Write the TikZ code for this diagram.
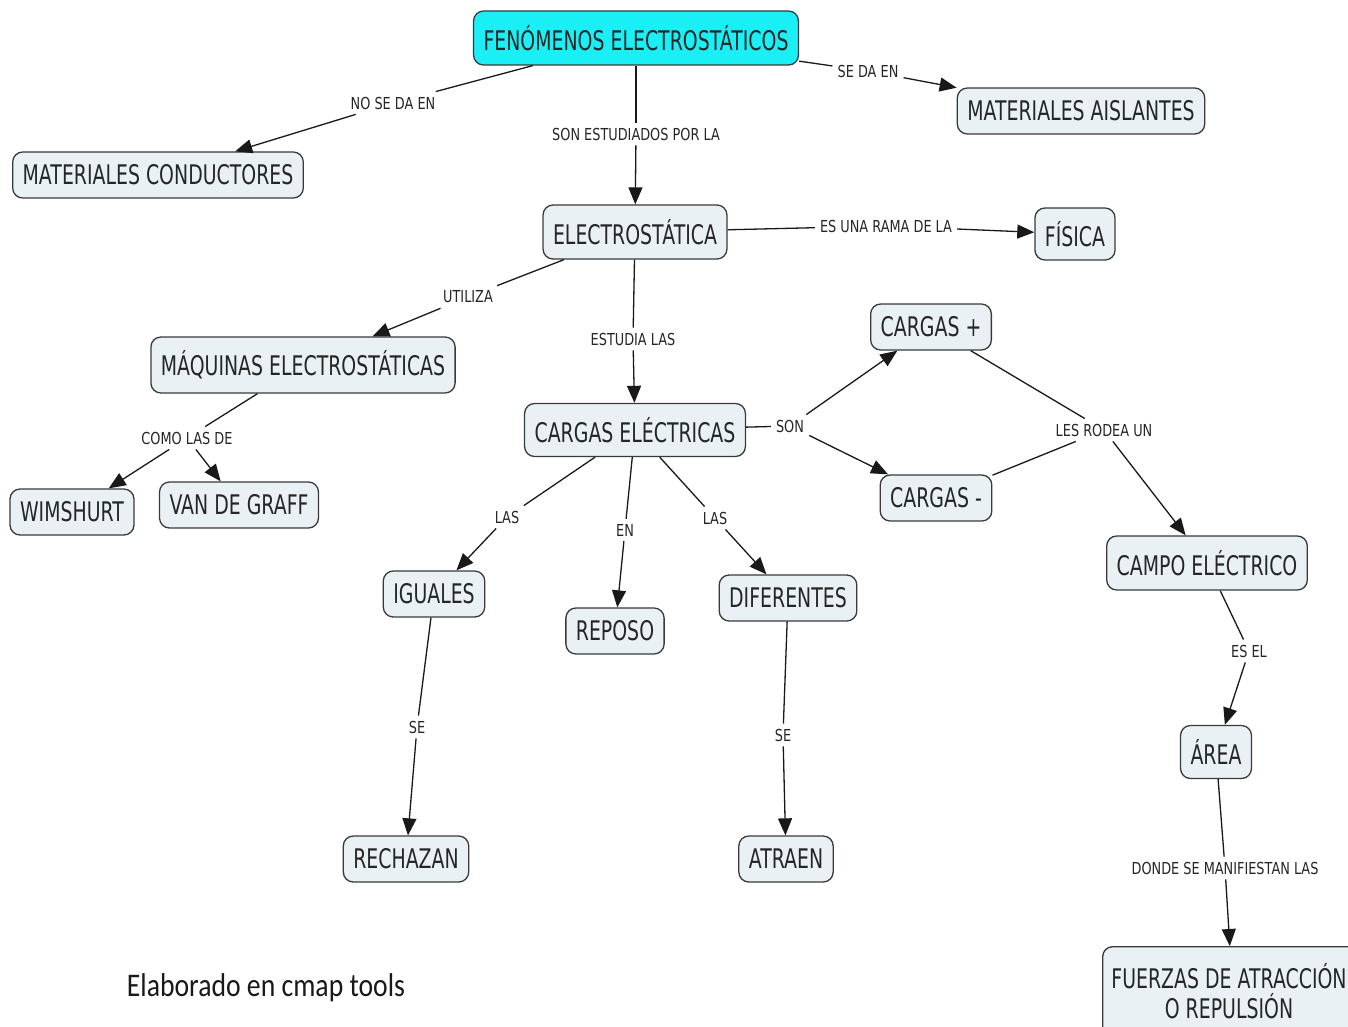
\documentclass[tikz,border=0pt]{standalone}
\usepackage{fontspec}
\usetikzlibrary{arrows.meta}
\newfontfamily\nodefont[FakeStretch=0.70]{DejaVu Sans}
\newfontfamily\labfont[FakeStretch=0.78]{DejaVu Sans}
\newfontfamily\footfont[FakeStretch=0.84]{Carlito}
\definecolor{boxfill}{HTML}{E9F1F5}
\definecolor{boxline}{HTML}{3A3A3A}
\definecolor{titlefill}{HTML}{1AEFF5}
\begin{document}
\begin{tikzpicture}[x=1pt,y=-1pt,
  concept/.style={draw=boxline,line width=1.3pt,rounded corners=10pt,fill=boxfill,
    font=\nodefont\fontsize{27}{30}\selectfont,inner xsep=10pt,inner ysep=0pt,
    minimum height=46pt,align=center,text=black!85},
  lab/.style={font=\labfont\fontsize{16.5}{19}\selectfont,inner sep=5pt,text=black!85},
  ln/.style={line width=1.3pt,black!90},
  arr/.style={ln,-{Triangle[length=17pt,width=14pt]}}]
\useasboundingbox (0,0) rectangle (1348,1027);
\fill[white] (0,0) rectangle (1348,1027);
% concepts
\node[concept,fill=titlefill,minimum height=54pt] (fen) at (636,38) {FENÓMENOS ELECTROSTÁTICOS};
\node[concept] (ais) at (1081,111) {MATERIALES AISLANTES};
\node[concept] (con) at (158,175) {MATERIALES CONDUCTORES};
\node[concept,minimum height=54pt] (est) at (635,232) {ELECTROSTÁTICA};
\node[concept,minimum height=52pt] (fis) at (1075,234) {FÍSICA};
\node[concept,minimum height=56pt] (maq) at (303,365) {MÁQUINAS ELECTROSTÁTICAS};
\node[concept] (cmas) at (931,327) {CARGAS +};
\node[concept,minimum height=53pt] (car) at (635,430) {CARGAS ELÉCTRICAS};
\node[concept] (cmen) at (936,498) {CARGAS -};
\node[concept] (wim) at (72,512) {WIMSHURT};
\node[concept] (van) at (239,505) {VAN DE GRAFF};
\node[concept,minimum height=54pt] (cam) at (1207,563) {CAMPO ELÉCTRICO};
\node[concept] (igu) at (434,594) {IGUALES};
\node[concept] (rep) at (615,631) {REPOSO};
\node[concept] (dif) at (788,598) {DIFERENTES};
\node[concept,minimum height=53pt] (are) at (1216,752) {ÁREA};
\node[concept] (rec) at (406,859) {RECHAZAN};
\node[concept] (atr) at (786,859) {ATRAEN};
\node[concept,minimum height=90pt,minimum width=260pt,anchor=north west] (fue) at (1102,946) {};
\node[font=\nodefont\fontsize{27}{30}\selectfont,align=center,text=black!85] (fuet) at (1229,991) {FUERZAS DE ATRACCIÓN\\O REPULSIÓN};
% labels
\node[lab] (l1) at (393,103) {NO SE DA EN};
\node[lab] (l2) at (868,71) {SE DA EN};
\node[lab] (l3) at (636,134) {SON ESTUDIADOS POR LA};
\node[lab] (l4) at (886,226) {ES UNA RAMA DE LA};
\node[lab] (l5) at (468,297) {UTILIZA};
\node[lab] (l6) at (633,339) {ESTUDIA LAS};
\node[lab] (l7) at (187,438) {COMO LAS DE};
\node[lab] (l8) at (790,426) {SON};
\node[lab] (l9) at (1104,430) {LES RODEA UN};
\node[lab] (l10) at (507,517) {LAS};
\node[lab] (l11) at (625,530) {EN};
\node[lab] (l12) at (715,518) {LAS};
\node[lab] (l13) at (417,727) {SE};
\node[lab] (l14) at (783,735) {SE};
\node[lab] (l15) at (1249,651) {ES EL};
\node[lab] (l16) at (1225,868) {DONDE SE MANIFIESTAN LAS};
\node[font=\footfont\fontsize{33}{38}\selectfont,text=black!90] (foot) at (266,988) {Elaborado en cmap tools};
% connectors
\draw[ln] (fen) -- (l1); \draw[arr] (l1) -- (con);
\draw[ln] (fen) -- (l2); \draw[arr] (l2) -- (ais);
\draw[ln] (fen) -- (l3); \draw[arr] (l3) -- (est);
\draw[ln] (est) -- (l4); \draw[arr] (l4) -- (fis);
\draw[ln] (est) -- (l5); \draw[arr] (l5) -- (maq);
\draw[ln] (est) -- (l6); \draw[arr] (l6) -- (car);
\draw[ln] (maq) -- (l7); \draw[arr] (l7) -- (wim); \draw[arr] (l7) -- (van);
\draw[ln] (car) -- (l8); \draw[arr] (l8) -- (cmas); \draw[arr] (l8) -- (cmen);
\draw[ln] (cmas) -- (l9); \draw[ln] (cmen) -- (l9); \draw[arr] (l9) -- (cam);
\draw[ln] (car) -- (l10); \draw[arr] (l10) -- (igu);
\draw[ln] (car) -- (l11); \draw[arr] (l11) -- (rep);
\draw[ln] (car) -- (l12); \draw[arr] (l12) -- (dif);
\draw[ln] (igu) -- (l13); \draw[arr] (l13) -- (rec);
\draw[ln] (dif) -- (l14); \draw[arr] (l14) -- (atr);
\draw[ln] (cam) -- (l15); \draw[arr] (l15) -- (are);
\draw[ln] (are) -- (l16); \draw[arr] (l16) -- (fue);
\end{tikzpicture}
\end{document}
